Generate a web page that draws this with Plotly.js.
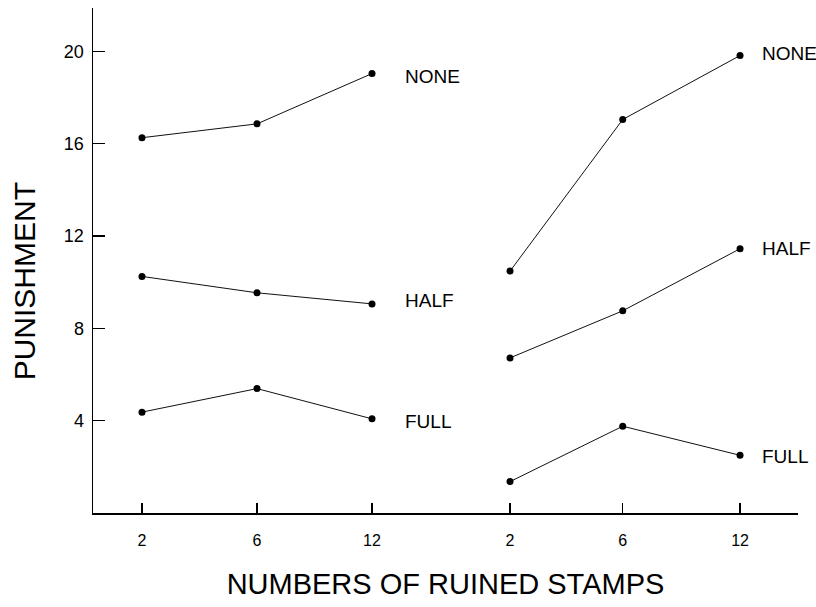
<!DOCTYPE html>
<html>
<head>
<meta charset="utf-8">
<script src="https://cdn.plot.ly/plotly-3.0.1.min.js"></script>
<style>html,body{margin:0;padding:0;background:#fff;}#chart{width:816px;height:607px;}</style>
</head>
<body>
<div id="chart"></div>
<script>
// Category positions (two panels of stamps counts) and tick labels
const xLeft = [1, 2, 3];
const xRight = [4.2, 5.18, 6.2];
const tickLabels = ['2', '6', '12', '2', '6', '12'];
const seriesNames = ['NONE', 'HALF', 'FULL'];

// Punishment values
const noneLeft = [16.26, 16.86, 19.04];
const halfLeft = [10.25, 9.54, 9.06];
const fullLeft = [4.37, 5.39, 4.08];
const noneRight = [10.48, 17.05, 19.82];
const halfRight = [6.72, 8.76, 11.45];
const fullRight = [1.36, 3.76, 2.50];

const yTicks = [4, 8, 12, 16, 20];

const FONT = '"Liberation Sans", Arial, Helvetica, sans-serif';
const groups = [
  {x: xLeft, sets: [noneLeft, halfLeft, fullLeft], xshift: 31, yshift: [-3, 3, -3]},
  {x: xRight, sets: [noneRight, halfRight, fullRight], xshift: 20, yshift: [2, 0, -1]}
];

const traces = [];
const annotations = [];
groups.forEach(g => {
  g.sets.forEach((ys, i) => {
    traces.push({
      x: g.x, y: ys, type: 'scatter', mode: 'lines+markers',
      line: {color: '#111', width: 1},
      marker: {color: '#000', size: 7},
      name: seriesNames[i], showlegend: false, hoverinfo: 'skip'
    });
    annotations.push({
      x: g.x[g.x.length - 1], y: ys[ys.length - 1], xref: 'x', yref: 'y',
      text: seriesNames[i], showarrow: false, xanchor: 'left', yanchor: 'middle',
      xshift: g.xshift, yshift: g.yshift[i],
      font: {family: FONT, size: 19, color: '#000'}
    });
  });
});

// Y-axis title (placed slightly below the axis centre, as in the reference)
annotations.push({
  text: 'PUNISHMENT', xref: 'paper', yref: 'paper', x: -0.097, y: 0.458,
  xanchor: 'center', yanchor: 'middle', textangle: -90, showarrow: false,
  font: {family: FONT, size: 30, color: '#000'}
});

const layout = {
  width: 816, height: 607,
  margin: {l: 93, r: 18, t: 8, b: 94},
  paper_bgcolor: '#fff', plot_bgcolor: '#fff',
  font: {family: FONT, color: '#000'},
  xaxis: {
    range: [0.574, 6.704], showgrid: false, zeroline: false,
    showline: true, linecolor: '#000', linewidth: 1.5,
    tickmode: 'array', tickvals: xLeft.concat(xRight), ticktext: tickLabels,
    ticks: 'inside', ticklen: 10, tickwidth: 1.5, tickcolor: '#000',
    tickfont: {family: FONT, size: 16, color: '#000'},
    ticklabelstandoff: 12,
    title: {text: 'NUMBERS OF RUINED STAMPS', font: {family: FONT, size: 29, color: '#000'}, standoff: 26},
    automargin: false, fixedrange: true
  },
  yaxis: {
    range: [0, 21.88], showgrid: false, zeroline: false,
    showline: true, linecolor: '#000', linewidth: 1.5,
    tickmode: 'array', tickvals: yTicks,
    ticks: 'inside', ticklen: 12, tickwidth: 1.5, tickcolor: '#000',
    tickfont: {family: FONT, size: 18, color: '#000'},
    ticklabelstandoff: 4,
    automargin: false, fixedrange: true
  },
  annotations: annotations,
  showlegend: false
};

Plotly.newPlot('chart', traces, layout, {displayModeBar: false, staticPlot: true});
</script>
</body>
</html>
